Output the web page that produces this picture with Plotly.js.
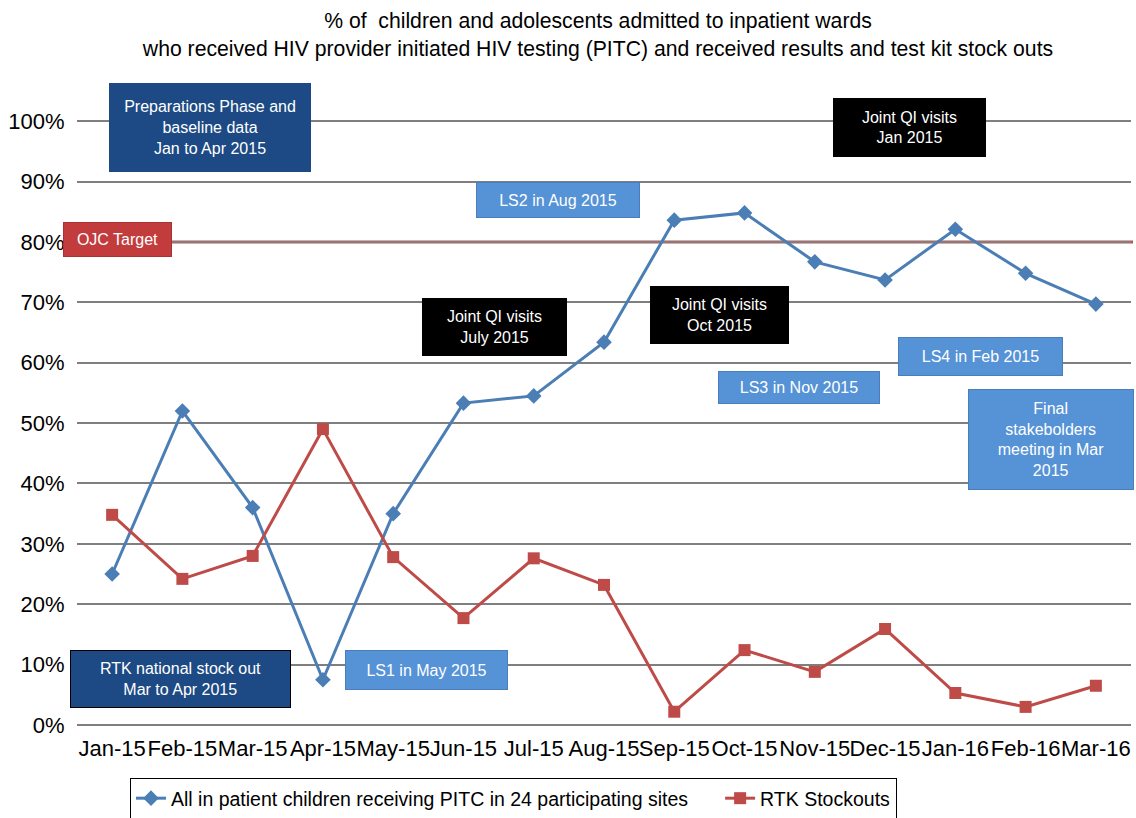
<!DOCTYPE html>
<html>
<head>
<meta charset="utf-8">
<script src="https://cdn.plot.ly/plotly-3.0.1.min.js"></script>
<style>html,body{margin:0;padding:0;background:#fff;}#chart{width:1136px;height:818px;}</style>
</head>
<body>
<div id="chart"></div>
<script>
// ---- data ----
var months = ["Jan-15","Feb-15","Mar-15","Apr-15","May-15","Jun-15","Jul-15","Aug-15","Sep-15","Oct-15","Nov-15","Dec-15","Jan-16","Feb-16","Mar-16"];
var pitcValues = [0.25,0.52,0.36,0.075,0.35,0.533,0.545,0.634,0.836,0.848,0.767,0.737,0.821,0.748,0.697];
var stockoutValues = [0.348,0.242,0.28,0.49,0.278,0.177,0.276,0.232,0.022,0.124,0.088,0.159,0.053,0.03,0.065];
var targetValue = 0.8;
var pitcName = "All in patient children receiving PITC in 24 participating sites";
var stockoutName = "RTK Stockouts";
var targetLabel = "OJC Target";
var yTickVals = [0,0.1,0.2,0.3,0.4,0.5,0.6,0.7,0.8,0.9,1.0];
var boxTexts = [
  "Preparations Phase and<br>baseline data<br>Jan to Apr 2015",
  "Joint QI visits<br>Jan 2015",
  "LS2 in Aug 2015",
  "Joint QI visits<br>July 2015",
  "Joint QI visits<br>Oct 2015",
  "LS3 in Nov 2015",
  "LS4 in Feb 2015",
  "Final<br>stakebolders<br>meeting in Mar<br>2015",
  "RTK national stock out<br>Mar to Apr 2015",
  "LS1 in May 2015"
];

// ---- layout geometry ----
var W = 1136, H = 818;
var L = 77, R = 1131, T = 71, B = 725;
function px(x){ return (x - L) / (R - L); }
function py(y){ return (B - y) / (B - T); }

var DARK = "#1d4a84", LIGHT = "#5592d6", BLACK = "#000000", RED = "#c23c3e";
var boxGeom = [
  [109,311,83,172,DARK,DARK],
  [833,986,98,157,BLACK,BLACK],
  [476,640,182,218,LIGHT,"#4a7ebb"],
  [422,567,298,356,BLACK,BLACK],
  [650,789,286,344,BLACK,BLACK],
  [718,880,371,404,LIGHT,"#4a7ebb"],
  [898,1063,337,376,LIGHT,"#4a7ebb"],
  [968,1134,389,490,LIGHT,"#4a7ebb"],
  [70,291,650,708,DARK,"#000000"],
  [345,508,650,690,LIGHT,"#4a7ebb"]
];
var FONT = "Liberation Sans, Arial, sans-serif";

var annotations = boxTexts.map(function(t, i){
  var g = boxGeom[i];
  return {
    text: t, xref: "paper", yref: "paper",
    x: px((g[0]+g[1])/2), y: py((g[2]+g[3])/2),
    xanchor: "center", yanchor: "middle",
    width: g[1]-g[0]-2, height: g[3]-g[2]-2,
    bgcolor: g[4], bordercolor: g[5], borderwidth: 1, borderpad: 0,
    showarrow: false, align: "center", valign: "middle",
    font: {family: FONT, size: 16, color: "#ffffff"}
  };
});
annotations.push({
  text: targetLabel, xref: "paper", yref: "paper",
  x: px((63+172)/2), y: py((222+257)/2), xanchor: "center", yanchor: "middle",
  width: 172-63-2, height: 257-222-2,
  bgcolor: RED, bordercolor: "#a83234", borderwidth: 1, borderpad: 0,
  showarrow: false,
  font: {family: FONT, size: 16, color: "#ffffff"}
});

var traces = [
  {
    x: months, y: pitcValues, name: pitcName + "\u00a0".repeat(5), type: "scatter", mode: "lines+markers",
    line: {color: "#4a7eb5", width: 3},
    marker: {symbol: "diamond", size: 12, color: "#4a7eb5"},
    cliponaxis: false
  },
  {
    x: months, y: stockoutValues, name: stockoutName, type: "scatter", mode: "lines+markers",
    line: {color: "#be4b48", width: 3},
    marker: {symbol: "square", size: 12, color: "#be4b48"},
    cliponaxis: false
  }
];

var layout = {
  width: W, height: H,
  paper_bgcolor: "#ffffff", plot_bgcolor: "#ffffff",
  font: {family: FONT, color: "#000000"},
  margin: {l: L, r: W - R, t: T, b: H - B, pad: 0, autoexpand: false},
  title: {
    text: "% of\u00a0 children and adolescents admitted to inpatient wards<br>who received HIV provider initiated HIV testing (PITC) and received results and test kit stock outs",
    x: 598 / W, xanchor: "center", xref: "container",
    y: 1 - 28 / H, yanchor: "top", yref: "container",
    font: {size: 21.2, color: "#000000"}
  },
  xaxis: {
    type: "category", range: [-0.5, months.length - 0.5],
    showgrid: false, zeroline: false, showline: false,
    ticks: "outside", ticklen: 4, tickcolor: "rgba(0,0,0,0)",
    tickfont: {size: 22, color: "#000000"}, tickangle: 0,
    fixedrange: true
  },
  yaxis: {
    range: [0, 1.083], tickvals: yTickVals, tickformat: ".0%",
    showgrid: true, gridcolor: "#7f7f7f", gridwidth: 2,
    zeroline: true, zerolinecolor: "#7f7f7f", zerolinewidth: 2,
    showline: false, ticks: "outside", ticklen: 7, tickcolor: "rgba(0,0,0,0)",
    tickfont: {size: 22, color: "#000000"}
  },
  shapes: [{
    type: "line", xref: "paper", yref: "y", layer: "between",
    x0: px(63), x1: px(1133), y0: targetValue, y1: targetValue,
    line: {color: "#c0504d", width: 3}
  }],
  annotations: annotations,
  showlegend: true,
  legend: {
    orientation: "h", x: px(130), xanchor: "left", y: py(778), yanchor: "top",
    bordercolor: "#000000", borderwidth: 1, bgcolor: "#ffffff",
    font: {size: 19.5, color: "#000000"}, itemwidth: 30
  }
};

Plotly.newPlot("chart", traces, layout, {displayModeBar: false, staticPlot: true});
</script>
</body>
</html>
